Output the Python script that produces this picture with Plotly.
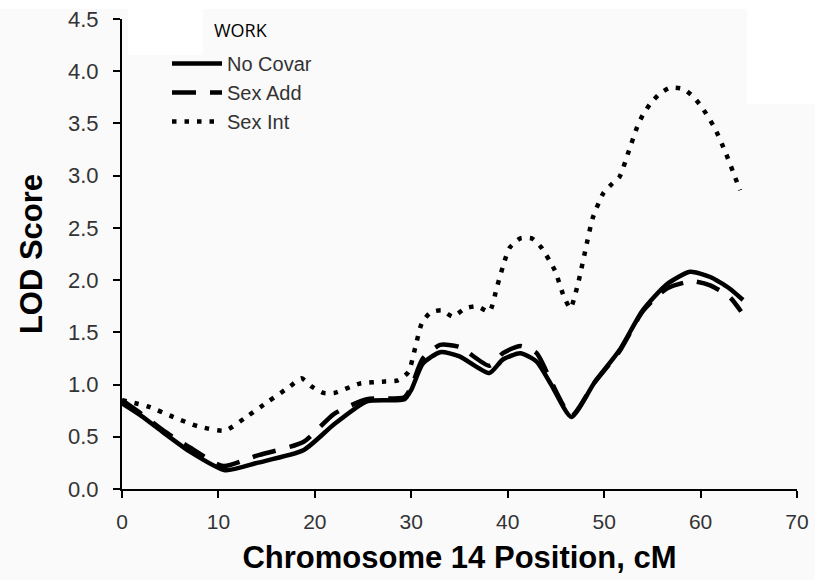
import plotly.graph_objects as go

# Data
pos_nocovar = [0, 2, 4.3, 7, 10.7, 14, 18.8, 22, 25.4, 29.3, 30, 31.2, 33, 35, 38.1, 39.5, 41.3, 43, 44.5, 46.6, 49, 51.6, 54, 56.5, 58.9, 61, 63, 64.4]
lod_nocovar = [0.82, 0.70, 0.54, 0.36, 0.18, 0.25, 0.37, 0.62, 0.84, 0.86, 0.95, 1.20, 1.31, 1.27, 1.11, 1.24, 1.30, 1.22, 1.00, 0.69, 1.02, 1.33, 1.71, 1.96, 2.08, 2.03, 1.92, 1.81]

pos_sexadd = [0, 2, 4.3, 7, 10.5, 14, 18.8, 22, 25.4, 29.3, 30, 31.2, 33, 35, 38.1, 39.5, 41.3, 43, 44.5, 46.6, 49, 51.6, 54, 56.5, 59.1, 61, 63, 64.2]
lod_sexadd = [0.85, 0.72, 0.56, 0.40, 0.22, 0.32, 0.45, 0.72, 0.86, 0.88, 0.98, 1.25, 1.38, 1.36, 1.18, 1.30, 1.37, 1.30, 1.03, 0.70, 1.02, 1.32, 1.70, 1.92, 1.99, 1.95, 1.84, 1.70]

pos_sexint = [0, 2.7, 5.3, 7.9, 10.7, 12.9, 15.2, 17.4, 18.6, 19.7, 20.9, 22.0, 24.7, 27.3, 28.6, 29.7, 30.4, 31.1, 32.0, 33.2, 34.3, 35.6, 36.8, 38.1, 38.9, 39.7, 40.2, 41.3, 42.5, 43.5, 44.9, 45.8, 46.5, 47.3, 48.2, 48.8, 49.9, 50.8, 51.6, 52.5, 53.4, 54.0, 54.8, 55.7, 56.8, 58.2, 59.2, 60.1, 61.5, 62.6, 63.6, 64.1]
lod_sexint = [0.85, 0.79, 0.69, 0.60, 0.56, 0.69, 0.84, 0.98, 1.06, 0.98, 0.92, 0.92, 1.01, 1.03, 1.04, 1.12, 1.35, 1.59, 1.69, 1.71, 1.65, 1.73, 1.75, 1.70, 1.94, 2.19, 2.31, 2.40, 2.40, 2.31, 2.09, 1.85, 1.73, 1.97, 2.35, 2.59, 2.83, 2.92, 2.99, 3.22, 3.46, 3.58, 3.69, 3.78, 3.84, 3.83, 3.76, 3.66, 3.45, 3.22, 2.98, 2.86]

x_ticks = [0, 10, 20, 30, 40, 50, 60, 70]
y_ticks = [0.0, 0.5, 1.0, 1.5, 2.0, 2.5, 3.0, 3.5, 4.0, 4.5]
y_tick_labels = ["0.0", "0.5", "1.0", "1.5", "2.0", "2.5", "3.0", "3.5", "4.0", "4.5"]

W, H = 815, 580
L, R, T, B = 122, 18, 19, 91
PW, PH = W - L - R, H - T - B


def px(x):
    return (x - L) / PW


def py(y):
    return (H - B - y) / PH


fig = go.Figure()
fig.add_trace(go.Scatter(x=pos_nocovar, y=lod_nocovar, mode="lines", name="No Covar", legendgroup="a",
                         line=dict(color="black", width=4.5, shape="spline", smoothing=0.6)))
fig.add_trace(go.Scatter(x=pos_sexadd, y=lod_sexadd, mode="lines", name="Sex Add", legendgroup="b",
                         line=dict(color="black", width=4.5, dash="24px,14px", shape="spline", smoothing=0.6)))
fig.add_trace(go.Scatter(x=pos_sexint, y=lod_sexint, mode="lines", name="Sex Int", legendgroup="c",
                         line=dict(color="black", width=4.5, dash="4.5px,8px", shape="spline", smoothing=0.6)))

# white patches present in the reference background
for (x0, y0, x1, y1) in [(0, 0, 815, 9), (128, 9, 203, 55), (747, 0, 815, 104)]:
    fig.add_shape(type="rect", xref="paper", yref="paper", x0=px(x0), x1=px(x1), y0=py(y1), y1=py(y0),
                  fillcolor="white", line=dict(width=0), layer="below")

fig.add_annotation(text="WORK", xref="paper", yref="paper", x=px(212), y=py(30),
                   xanchor="left", yanchor="middle", showarrow=False,
                   font=dict(family="Open Sans, Liberation Sans, sans-serif", size=18, color="black"))

fig.update_layout(
    width=W, height=H,
    margin=dict(l=L, r=R, t=T, b=B, autoexpand=False),
    paper_bgcolor="#fafafa", plot_bgcolor="rgba(0,0,0,0)",
    font=dict(family="Liberation Sans, Arial, sans-serif", color="#333"),
    showlegend=True,
    legend=dict(x=px(167), y=py(44), xanchor="left", yanchor="top", traceorder="grouped",
                bgcolor="rgba(0,0,0,0)", font=dict(size=20, color="#333"),
                tracegroupgap=0, itemwidth=50),
    xaxis=dict(range=[0, 70], tickvals=x_ticks, ticks="outside", ticklen=7, tickwidth=2,
               tickcolor="black", showline=True, linecolor="black", linewidth=2,
               showgrid=False, zeroline=False, ticklabelstandoff=6, automargin=False,
               tickfont=dict(size=21, color="#333"),
               title=dict(text="<b>Chromosome 14 Position, cM</b>", font=dict(size=31, color="black"), standoff=14)),
    yaxis=dict(range=[0, 4.5], tickvals=y_ticks, ticktext=y_tick_labels, ticks="outside", ticklen=7,
               tickwidth=2, tickcolor="black", showline=True, linecolor="black", linewidth=2,
               showgrid=False, zeroline=False, ticklabelstandoff=10, automargin=False,
               tickfont=dict(size=22, color="#333"),
               title=dict(text="<b>LOD Score</b>", font=dict(size=31, color="black"), standoff=16)),
)

fig.write_html("out.html")
